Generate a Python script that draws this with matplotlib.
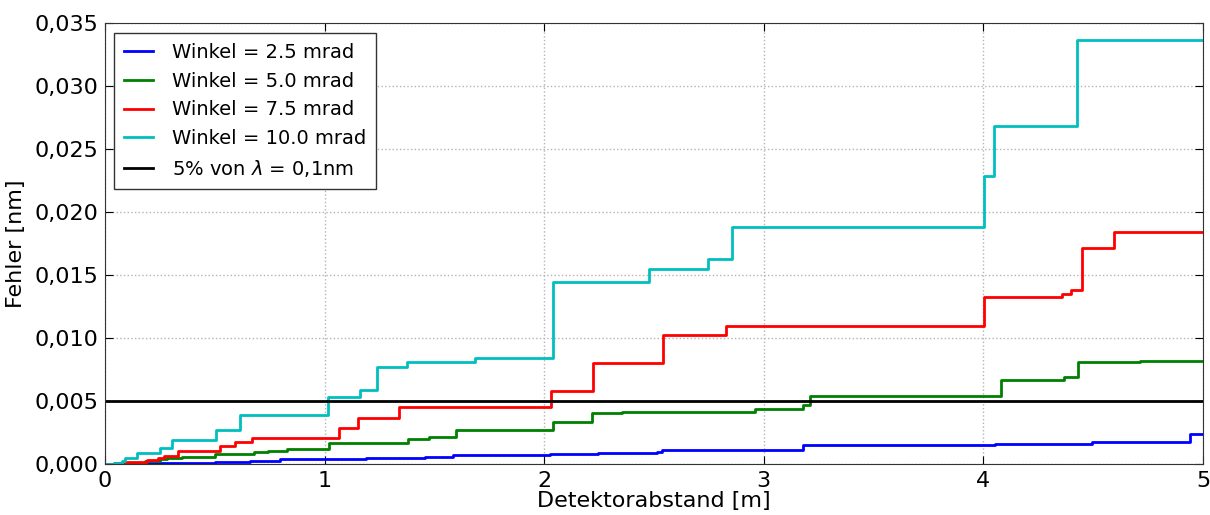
import numpy as np
import matplotlib
matplotlib.use('Agg')
import matplotlib.pyplot as plt
from matplotlib.ticker import FuncFormatter

# Step positions (detector distance in m) and error values (nm) per angle
x_25 = [0, 0.2, 0.35, 0.5, 0.66, 0.797, 1.19, 1.457, 1.586, 2.026, 2.245,
        2.512, 2.535, 2.905, 3.18, 4.053, 4.493, 4.941, 5.0]
y_25 = [0, 0.00005, 0.0001, 0.00013, 0.00022, 0.00037, 0.00045, 0.00055,
        0.00072, 0.00079, 0.00085, 0.00098, 0.00108, 0.00112, 0.00147,
        0.00161, 0.00172, 0.00238, 0.00238]

x_50 = [0, 0.06, 0.18, 0.25, 0.28, 0.35, 0.5, 0.68, 0.74, 0.83, 1.02, 1.23,
        1.378, 1.477, 1.598, 2.04, 2.216, 2.353, 2.96, 3.177, 3.21, 4.08,
        4.369, 4.432, 4.713, 5.0]
y_50 = [0, 0.0001, 0.00024, 0.00037, 0.00045, 0.00053, 0.00077, 0.00095,
        0.00106, 0.00117, 0.00164, 0.0017, 0.00198, 0.00217, 0.0027, 0.0033,
        0.00402, 0.0041, 0.00437, 0.00466, 0.0054, 0.00664, 0.0069, 0.00807,
        0.00817, 0.00817]

x_75 = [0, 0.04, 0.077, 0.19, 0.24, 0.27, 0.334, 0.524, 0.592, 0.668, 1.067,
        1.154, 1.34, 2.031, 2.224, 2.542, 2.828, 4.004, 4.356, 4.397, 4.45,
        4.596, 5.0]
y_75 = [0, 0.0001, 0.00018, 0.00032, 0.0005, 0.00066, 0.00106, 0.0014,
        0.00172, 0.0021, 0.00283, 0.00362, 0.0045, 0.0058, 0.0080, 0.01024,
        0.01095, 0.01328, 0.01349, 0.01381, 0.01712, 0.01844, 0.01844]

x_100 = [0, 0.04, 0.076, 0.091, 0.144, 0.25, 0.304, 0.505, 0.615, 1.017,
         1.16, 1.237, 1.374, 1.685, 2.039, 2.479, 2.747, 2.857, 4.004, 4.048,
         4.428, 5.0]
y_100 = [0, 0.0001, 0.00026, 0.00045, 0.00085, 0.00124, 0.0019, 0.0027,
         0.0039, 0.00534, 0.0059, 0.0077, 0.0081, 0.00844, 0.01447, 0.01545,
         0.0163, 0.01884, 0.02288, 0.02683, 0.03365, 0.03365]

series = [
    (x_25, y_25, 'b', 'Winkel = 2.5 mrad'),
    (x_50, y_50, 'g', 'Winkel = 5.0 mrad'),
    (x_75, y_75, 'r', 'Winkel = 7.5 mrad'),
    (x_100, y_100, 'c', 'Winkel = 10.0 mrad'),
]
limit = 0.005  # 5 % of lambda = 0.1 nm

plt.rcParams['font.family'] = 'DejaVu Sans'
plt.rcParams['xtick.direction'] = 'in'
plt.rcParams['ytick.direction'] = 'in'

fig = plt.figure(figsize=(12.1, 5.15), dpi=100)
ax = fig.add_axes([0.0868, 0.099, 0.9074, 0.856])

for xs, ys, col, lab in series:
    ax.plot(xs, ys, color=col, drawstyle='steps-post', linewidth=2, label=lab)
ax.axhline(limit, color='k', linewidth=2, label=r'5% von $\lambda$ = 0,1nm')

ax.set_xlim(0, 5)
ax.set_ylim(0, 0.035)
ax.set_xticks(np.arange(0, 6, 1))
ax.set_yticks(np.arange(0, 0.0351, 0.005))
ax.yaxis.set_major_formatter(FuncFormatter(lambda v, p: f'{v:.3f}'.replace('.', ',')))
ax.tick_params(labelsize=16, top=True, right=True, length=6, width=0.8, pad=5)
ax.grid(True, linestyle=':', color='0.7', linewidth=1)

for s in ax.spines.values():
    s.set_color('0.2')

ax.set_xlabel('Detektorabstand [m]', fontsize=16, labelpad=0)
ax.set_ylabel('Fehler [nm]', fontsize=16, labelpad=6)

leg = ax.legend(loc='upper left', fontsize=14, fancybox=False, framealpha=1,
                handlelength=1.5, handletextpad=1.0, borderpad=0.5,
                labelspacing=0.5, borderaxespad=0,
                bbox_to_anchor=(0.008, 0.977))
leg.get_frame().set_edgecolor('0.2')

fig.savefig('out.png', dpi=100, facecolor='white')
